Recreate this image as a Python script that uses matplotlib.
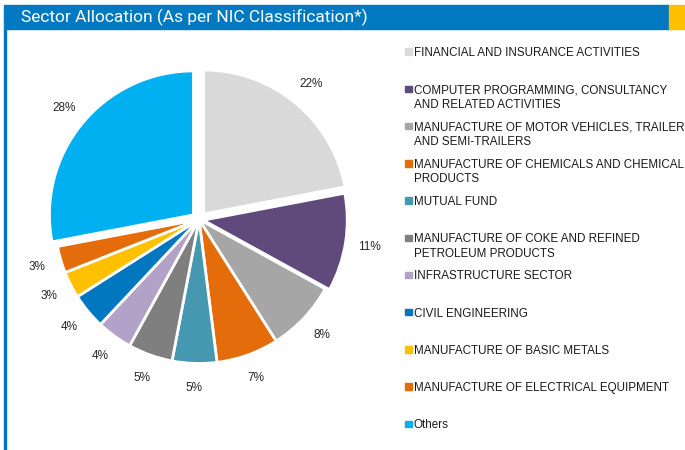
import matplotlib
matplotlib.use("Agg")
from matplotlib import pyplot as plt
from matplotlib.patches import Rectangle

# sector data, clockwise from 12 o'clock
sectors = [
    "FINANCIAL AND INSURANCE ACTIVITIES",
    "COMPUTER PROGRAMMING, CONSULTANCY\nAND RELATED ACTIVITIES",
    "MANUFACTURE OF MOTOR VEHICLES, TRAILERS\nAND SEMI-TRAILERS",
    "MANUFACTURE OF CHEMICALS AND CHEMICAL\nPRODUCTS",
    "MUTUAL FUND",
    "MANUFACTURE OF COKE AND REFINED\nPETROLEUM PRODUCTS",
    "INFRASTRUCTURE SECTOR",
    "CIVIL ENGINEERING",
    "MANUFACTURE OF BASIC METALS",
    "MANUFACTURE OF ELECTRICAL EQUIPMENT",
    "Others",
]
weights = [22, 11, 8, 7, 5, 5, 4, 4, 3, 3, 28]
colors = ["#D9D9D9", "#604A7B", "#A6A6A6", "#E46C0A", "#4698B0",
          "#7F7F7F", "#B3A2C7", "#0077BE", "#FFC000", "#E46C0A", "#00B0F0"]
explode = [0.05, 0.03, 0, 0, 0, 0, 0, 0, 0, 0, 0.05]
title = "Sector Allocation (As per NIC Classification*)"

W, H = 685, 450
fig = plt.figure(figsize=(W / 100, H / 100), dpi=100)
fig.set_facecolor("#ffffff")

# header bar + yellow tab + left rule
blue = "#0079C1"
fig.patches.append(Rectangle((4 / W, 1 - 29 / H), 665 / W, 24 / H,
                             transform=fig.transFigure, color=blue, zorder=0))
fig.patches.append(Rectangle((669 / W, 1 - 29 / H), 16 / W, 24 / H,
                             transform=fig.transFigure, color="#FFC000", zorder=0))
fig.patches.append(Rectangle((4 / W, 0), 2 / W, 1 - 29 / H,
                             transform=fig.transFigure, color=blue, zorder=0))
t = fig.text(21 / W, 1 - 17.5 / H, title, color="white", fontsize=12, va="center",
             ha="left", family="Roboto", fontstretch="condensed")
# fit the title to the width it has in the original (~346 px)
r = fig.canvas.get_renderer()
tw = t.get_window_extent(renderer=r).width
t.set_fontsize(12 * 346 / tw)

# pie: centre at (199, 219.5) px, radius 144 px
cx, cy, rad = 199, 219.5, 144
L = 1.35
size = 2 * L * rad
ax = fig.add_axes([(cx - size / 2) / W, (H - cy - size / 2) / H, size / W, size / H])
wedges, texts, autotexts = ax.pie(
    weights, colors=colors, explode=explode, startangle=90, counterclock=False,
    autopct="%.0f%%", pctdistance=1.17,
    wedgeprops=dict(edgecolor="white", linewidth=2),
    textprops=dict(fontsize=8.5, color="#262626", family="Liberation Sans"))
ax.set_xlim(-L, L)
ax.set_ylim(-L, L)
ax.set_aspect("equal")
ax.axis("off")

# legend drawn by hand so spacing matches
for i, (lab, col) in enumerate(zip(sectors, colors)):
    y = 52 + 37.2 * i
    fig.patches.append(Rectangle((405 / W, 1 - (y + 3) / H), 6.5 / W, 6.5 / H,
                                 transform=fig.transFigure, color=col))
    fig.text(414 / W, 1 - (y - 4.8) / H, lab, fontsize=8.4, va="top", ha="left",
             color="#1a1a1a", family="Liberation Sans", linespacing=1.3)

plt.savefig("out.png", dpi=100)
